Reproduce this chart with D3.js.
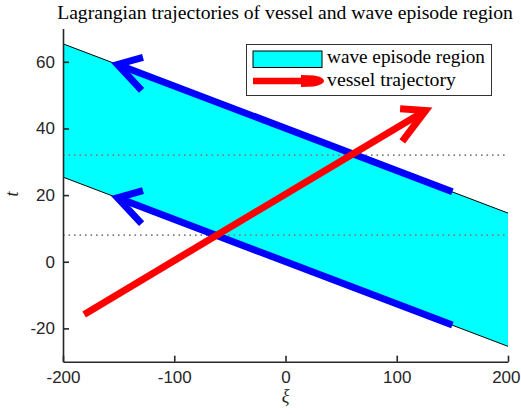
<!DOCTYPE html>
<html>
<head>
<meta charset="utf-8">
<script src="https://cdn.jsdelivr.net/npm/d3@7"></script>
<style>
  html, body { margin: 0; padding: 0; background: #fff; }
  svg { display: block; }
</style>
</head>
<body>
<script>
// Axis ticks
const xTicks = [-200, -100, 0, 100, 200];
const yTicks = [-20, 0, 20, 40, 60];

// Wave episode region: upper and lower boundaries over the ξ range
const regionXi = [-200, 200];
const regionTop = [65.4, 14.6];
const regionBottom = [25.4, -25.4];

// Times where the vessel enters / leaves the episode region
const episodeTimes = [8, 32];

// Wave group arrows (tail -> head)
const waveArrowXi = [150, -151];
const waveArrowUpperT = [21, 59.2];
const waveArrowLowerT = [-19, 19.2];

// Vessel trajectory (tail -> head)
const vesselXi = [-181, 126];
const vesselT = [-15.8, 45.4];

// Legend entries
const legendLabels = ["wave episode region", "vessel trajectory"];

const W = 521, H = 414;
const margin = { left: 63, right: 13, top: 28.5, bottom: 52.3 };

const svg = d3.select("body").append("svg")
  .attr("width", W).attr("height", H);

const x = d3.scaleLinear().domain([-200, 200]).range([margin.left, W - margin.right]);
const y = d3.scaleLinear().domain([-30, 70]).range([H - margin.bottom, margin.top]);

const serif = "'Liberation Serif', 'DejaVu Serif', serif";
const sans = "'Liberation Sans', Arial, sans-serif";

// Region patch
const regionPts = [
  [regionXi[0], regionTop[0]], [regionXi[1], regionTop[1]],
  [regionXi[1], regionBottom[1]], [regionXi[0], regionBottom[0]]
];
svg.append("path")
  .attr("d", d3.line().x(d => x(d[0])).y(d => y(d[1]))(regionPts) + "Z")
  .attr("fill", "#00ffff");

// Region boundary lines
[regionTop, regionBottom].forEach(tv => {
  svg.append("line")
    .attr("x1", x(regionXi[0])).attr("y1", y(tv[0]))
    .attr("x2", x(regionXi[1])).attr("y2", y(tv[1]))
    .attr("stroke", "#000").attr("stroke-width", 1);
});

// Dotted lines at entry/exit times
episodeTimes.forEach(t => {
  svg.append("line")
    .attr("x1", x(-200)).attr("x2", x(200))
    .attr("y1", y(t)).attr("y2", y(t))
    .attr("stroke", "#808080").attr("stroke-width", 1.6)
    .attr("stroke-dasharray", "1.6,3.9");
});

// Arrow drawn in data space: shaft plus two barbs at the head
function arrow(xi, tv, color) {
  const g = svg.append("g");
  g.append("line")
    .attr("x1", x(xi[0])).attr("y1", y(tv[0]))
    .attr("x2", x(xi[1])).attr("y2", y(tv[1]))
    .attr("stroke", color).attr("stroke-width", 7);
  const dx = xi[0] - xi[1], dy = tv[0] - tv[1];
  const len = Math.hypot(dx, dy);
  const ux = dx / len, uy = dy / len;
  const L = 23, a = 12.5 * Math.PI / 180;
  const barb = s => [
    xi[1] + L * (ux * Math.cos(s * a) - uy * Math.sin(s * a)),
    tv[1] + L * (ux * Math.sin(s * a) + uy * Math.cos(s * a))
  ];
  const b1 = barb(1), b2 = barb(-1);
  g.append("path")
    .attr("d", d3.line().x(d => x(d[0])).y(d => y(d[1]))([b1, [xi[1], tv[1]], b2]))
    .attr("fill", "none").attr("stroke", color).attr("stroke-width", 7)
    .attr("stroke-linejoin", "miter");
}

arrow(waveArrowXi, waveArrowUpperT, "#0000ff");
arrow(waveArrowXi, waveArrowLowerT, "#0000ff");
arrow(vesselXi, vesselT, "#ff0000");

// Axes (left and bottom, ticks pointing inward)
const axisColor = "#262626";
const fmt = d => String(d);
const xAxis = svg.append("g")
  .attr("transform", `translate(0,${H - margin.bottom})`)
  .call(d3.axisBottom(x).tickValues(xTicks).tickFormat(fmt)
    .tickSizeInner(-6).tickSizeOuter(0).tickPadding(9));
const yAxis = svg.append("g")
  .attr("transform", `translate(${margin.left},0)`)
  .call(d3.axisLeft(y).tickValues(yTicks).tickFormat(fmt)
    .tickSizeInner(-6).tickSizeOuter(0).tickPadding(8));
[xAxis, yAxis].forEach(ax => {
  ax.select(".domain").attr("stroke", axisColor).attr("stroke-width", 1.6);
  ax.selectAll(".tick line").attr("stroke", axisColor).attr("stroke-width", 1.6);
  ax.selectAll(".tick text").attr("fill", axisColor)
    .style("font-family", sans).style("font-size", "17px");
});
// Keep the outermost x label inside the canvas
xAxis.selectAll(".tick text").each(function (d) {
  const w = this.getComputedTextLength();
  const right = x(d) + w / 2;
  if (right > W - 1) d3.select(this).attr("dx", (W - 1 - right) + "px");
});

// Helper: set font size so text spans a given width
function fitText(sel, width) {
  sel.style("font-size", "100px");
  const w = sel.node().getComputedTextLength();
  sel.style("font-size", (100 * width / w) + "px");
  return sel;
}

// Title
const title = svg.append("text")
  .attr("x", 285).attr("y", 18.5)
  .attr("text-anchor", "middle")
  .style("font-family", serif).attr("fill", "#000")
  .text("Lagrangian trajectories of vessel and wave episode region");
fitText(title, 456);

// Axis labels
svg.append("text")
  .attr("x", x(0)).attr("y", 402)
  .attr("text-anchor", "middle")
  .style("font-family", serif).style("font-style", "italic").style("font-size", "18px")
  .attr("fill", axisColor)
  .text("ξ");
svg.append("text")
  .attr("transform", `translate(18,194) rotate(-90)`)
  .attr("text-anchor", "middle")
  .style("font-family", serif).style("font-style", "italic").style("font-size", "18px")
  .attr("fill", axisColor)
  .text("t");

// Legend
const leg = svg.append("g");
leg.append("rect")
  .attr("x", 246.5).attr("y", 44.5).attr("width", 245).attr("height", 51)
  .attr("fill", "#fff").attr("stroke", "#333").attr("stroke-width", 1);
leg.append("rect")
  .attr("x", 253).attr("y", 51).attr("width", 69).attr("height", 16.5)
  .attr("fill", "#00ffff").attr("stroke", "#000").attr("stroke-width", 1);
leg.append("line")
  .attr("x1", 253).attr("x2", 303).attr("y1", 81).attr("y2", 81)
  .attr("stroke", "#ff0000").attr("stroke-width", 6.5);
leg.append("path")
  .attr("d", "M301,75 L314,75.6 Q324,77.5 324,81 Q324,84.5 314,86.4 L301,87 Z")
  .attr("fill", "#ff0000");
const l1 = leg.append("text").attr("x", 327).attr("y", 63.3)
  .style("font-family", serif).attr("fill", "#000").text(legendLabels[0]);
fitText(l1, 158);
const l2 = leg.append("text").attr("x", 327).attr("y", 85.5)
  .style("font-family", serif).attr("fill", "#000").text(legendLabels[1]);
fitText(l2, 129);
</script>
</body>
</html>
